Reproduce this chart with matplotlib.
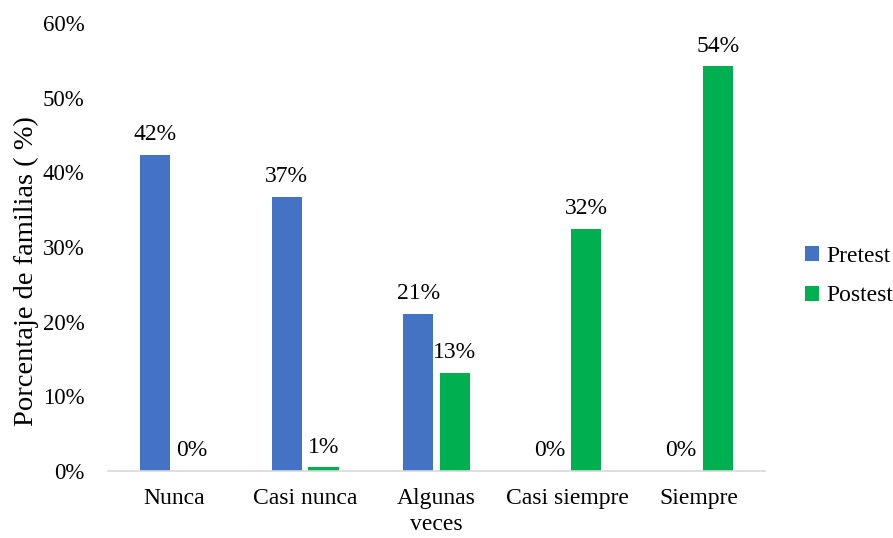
import numpy as np
import matplotlib.pyplot as plt

plt.rcParams['font.family'] = ['Liberation Serif', 'DejaVu Serif']

# Data
categories = ['Nunca', 'Casi nunca', 'Algunas\nveces', 'Casi siempre', 'Siempre']
pretest = [42.3, 36.7, 21.0, 0.0, 0.0]
postest = [0.0, 0.5, 13.1, 32.4, 54.2]
pre_labels = ['42%', '37%', '21%', '0%', '0%']
post_labels = ['0%', '1%', '13%', '32%', '54%']
yticks = [0, 10, 20, 30, 40, 50, 60]

blue = '#4472C4'
green = '#00B050'
fs = 17

fig = plt.figure(figsize=(8.93, 5.38), dpi=100)
ax = fig.add_axes([108 / 893, 1 - 471 / 538, 657 / 893, 448 / 538])

x = np.arange(len(categories))
w = 0.23
off = 0.14
b1 = ax.bar(x - off, pretest, w, color=blue, label='Pretest')
b2 = ax.bar(x + off, postest, w, color=green, label='Postest')

ax.bar_label(b1, labels=pre_labels, padding=7, fontsize=fs)
ax.bar_label(b2, labels=post_labels, padding=7, fontsize=fs)

ax.set_xlim(-0.5, 4.5)
ax.set_ylim(0, 60)
ax.set_yticks(yticks)
ax.set_yticklabels([f'{v}%' for v in yticks], fontsize=16.5)
ax.set_xticks(x)
ax.set_xticklabels(categories, fontsize=fs, linespacing=1.35)
ax.tick_params(axis='y', length=0, pad=17)
ax.tick_params(axis='x', length=0, pad=12)

for s in ['top', 'right', 'left']:
    ax.spines[s].set_visible(False)
ax.spines['bottom'].set_color('#D9D9D9')
ax.spines['bottom'].set_linewidth(1.2)

ax.set_ylabel('Porcentaje de familias ( %)', fontsize=20.5)
ax.yaxis.set_label_coords(-0.105, 0.446)

fig.legend(handles=[b1, b2], loc='center left', bbox_to_anchor=(805 / 893, 1 - 276 / 538),
           frameon=False, fontsize=fs, handlelength=0.6, handleheight=0.6,
           handletextpad=0.3, labelspacing=0.8, borderpad=0, borderaxespad=0)

fig.savefig('out.png', dpi=100)
